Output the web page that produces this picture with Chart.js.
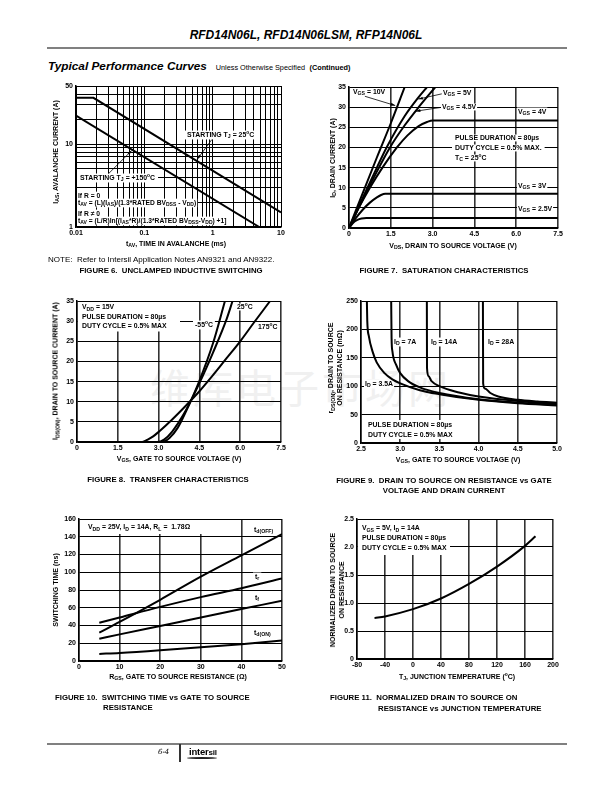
<!DOCTYPE html>
<html><head><meta charset="utf-8">
<script src="https://cdn.jsdelivr.net/npm/chart.js@4.4.0/dist/chart.umd.min.js"></script>
<style>
html,body{margin:0;padding:0;background:#fff;}
body{width:612px;height:792px;position:relative;overflow:hidden;font-family:'Liberation Sans',Arial,sans-serif;color:#000;}
#charts{position:absolute;left:0;top:0;width:612px;height:792px;z-index:1;}
#charts canvas{position:absolute;}
.abs{position:absolute;white-space:nowrap;line-height:1;z-index:2;}
.b{font-weight:bold;}
.lbl{position:absolute;white-space:nowrap;line-height:1;font-weight:bold;font-size:6.9px;padding:0 1px;transform:translateY(-50%);z-index:2;}
.box{position:absolute;white-space:nowrap;font-weight:bold;font-size:6.9px;z-index:2;line-height:9.5px;}
.ttl{position:absolute;white-space:nowrap;line-height:1;font-weight:bold;font-size:7px;transform:translate(-50%,-50%);z-index:2;text-align:center;}
.rot{transform:translate(-50%,-50%) rotate(-90deg);}
.cap{position:absolute;white-space:nowrap;line-height:1;font-weight:bold;font-size:7.8px;transform:translateY(-50%);z-index:2;}
.capc{transform:translate(-50%,-50%);}
sub{font-size:75%;vertical-align:-0.3em;line-height:0;}
sup{font-size:70%;vertical-align:0.5em;line-height:0;}
#wm{position:absolute;left:150px;top:366px;font-family:'Noto Sans CJK SC';font-size:40px;color:#f0f0f0;z-index:0;letter-spacing:3px;white-space:nowrap;line-height:1;}
</style></head><body>
<div id="wm">维库电子市场网</div>
<div id="charts"></div>

<!-- header -->
<div class="abs b" style="left:0;width:612px;text-align:center;top:29px;font-size:12px;font-style:italic">RFD14N06L, RFD14N06LSM, RFP14N06L</div>
<div style="position:absolute;left:47px;top:47px;width:520px;height:2px;background:#808080"></div>
<div class="abs" style="left:48px;top:57px"><span style="font-weight:bold;font-style:italic;font-size:11.8px">Typical Performance Curves</span>&nbsp; <span style="font-size:7.3px">Unless Otherwise Specified</span> <span style="font-size:7.3px;font-weight:bold;color:#000">(Continued)</span></div>

<!-- Figure 6 -->
<div class="lbl wb" style="left:185px;top:135px;padding:1px 2px">STARTING T<sub>J</sub> = 25<sup>o</sup>C</div>
<div class="lbl wb" style="left:77px;top:178px;padding:1px 3px">STARTING T<sub>J</sub> = +150<sup>o</sup>C</div>
<div class="lbl wb" style="left:77px;top:196px;font-size:6.7px;padding:1px 1px">If R = 0</div>
<div class="lbl wb" style="left:77px;top:203px;font-size:6.7px;padding:1px 1px">t<sub>AV</sub> = (L)(I<sub>AS</sub>)/(1.3*RATED BV<sub>DSS</sub> - V<sub>DD</sub>)</div>
<div class="lbl wb" style="left:77px;top:214px;font-size:6.7px;padding:1px 1px">If R ≠ 0</div>
<div class="lbl wb" style="left:77px;top:221px;font-size:6.7px;padding:1px 1px">t<sub>AV</sub> = (L/R)ln[(I<sub>AS</sub>*R)/(1.3*RATED BV<sub>DSS</sub>-V<sub>DD</sub>) +1]</div>
<div class="ttl rot" style="left:55px;top:152px">I<sub>AS</sub>, AVALANCHE CURRENT (A)</div>
<div class="ttl" style="left:176px;top:243px">t<sub>AV</sub>, TIME IN AVALANCHE (ms)</div>
<div class="abs" style="left:48px;top:256px;font-size:8px">NOTE:&nbsp; Refer to Intersil Application Notes AN9321 and AN9322.</div>
<div class="cap capc" style="left:171px;top:271px">FIGURE 6.&nbsp; UNCLAMPED INDUCTIVE SWITCHING</div>

<!-- Figure 7 -->
<div class="lbl wb" style="left:351px;top:92px;padding:1px 2px">V<sub>GS</sub> = 10V</div>
<div class="lbl wb" style="left:442px;top:93px">V<sub>GS</sub> = 5V</div>
<div class="lbl wb" style="left:441px;top:107px">V<sub>GS</sub> = 4.5V</div>
<div class="lbl wb" style="left:517px;top:112px;padding:1px 1px">V<sub>GS</sub> = 4V</div>
<div class="lbl wb" style="left:452px;top:138px;padding:0 3px">PULSE DURATION = 80µs</div>
<div class="lbl wb" style="left:452px;top:148px;padding:0 3px">DUTY CYCLE = 0.5% MAX.</div>
<div class="lbl wb" style="left:452px;top:158px;padding:0 3px">T<sub>C</sub> = 25<sup>o</sup>C</div>
<div class="lbl wb" style="left:517px;top:186px">V<sub>GS</sub> = 3V</div>
<div class="lbl wb" style="left:517px;top:209px">V<sub>GS</sub> = 2.5V</div>
<div class="ttl rot" style="left:332px;top:158px">I<sub>D</sub>, DRAIN CURRENT (A)</div>
<div class="ttl" style="left:453px;top:245px">V<sub>DS</sub>, DRAIN TO SOURCE VOLTAGE (V)</div>
<div class="cap capc" style="left:444px;top:271px">FIGURE 7.&nbsp; SATURATION CHARACTERISTICS</div>

<!-- Figure 8 -->
<div class="box wb" style="left:78px;top:302px;width:98px;padding:0 0 1px 4px">V<sub>DD</sub> = 15V<br>PULSE DURATION = 80µs<br>DUTY CYCLE = 0.5% MAX</div>
<div class="lbl wb" style="left:193px;top:325px;padding:1px 2px">-55<sup>o</sup>C</div>
<div class="lbl wb" style="left:236px;top:307px">25<sup>o</sup>C</div>
<div class="lbl wb" style="left:257px;top:327px">175<sup>o</sup>C</div>
<div class="ttl rot" style="left:55px;top:371px">I<sub>DS(ON)</sub>, DRAIN TO SOURCE CURRENT (A)</div>
<div class="ttl" style="left:179px;top:458px">V<sub>GS</sub>, GATE TO SOURCE VOLTAGE (V)</div>
<div class="cap capc" style="left:168px;top:480px">FIGURE 8.&nbsp; TRANSFER CHARACTERISTICS</div>

<!-- Figure 9 -->
<div class="lbl wb" style="left:393px;top:342px;padding:1px 1px">I<sub>D</sub> = 7A</div>
<div class="lbl wb" style="left:430px;top:342px;padding:1px 1px">I<sub>D</sub> = 14A</div>
<div class="lbl wb" style="left:487px;top:342px;padding:1px 1px">I<sub>D</sub> = 28A</div>
<div class="lbl wb" style="left:364px;top:384px;padding:1px 1px">I<sub>D</sub> = 3.5A</div>
<div class="box wb" style="left:364px;top:420px;padding:0 4px">PULSE DURATION = 80µs<br>DUTY CYCLE = 0.5% MAX</div>
<div class="ttl rot" style="left:335px;top:368px;line-height:9px">r<sub>DS(ON)</sub>, DRAIN TO SOURCE<br>ON RESISTANCE (mΩ)</div>
<div class="ttl" style="left:458px;top:459px">V<sub>GS</sub>, GATE TO SOURCE VOLTAGE (V)</div>
<div class="cap capc" style="left:444px;top:481px">FIGURE 9.&nbsp; DRAIN TO SOURCE ON RESISTANCE vs GATE</div>
<div class="cap capc" style="left:444px;top:491px">VOLTAGE AND DRAIN CURRENT</div>

<!-- Figure 10 -->
<div class="box wb" style="left:80px;top:520px;width:117px;padding:3px 0 3px 8px;line-height:8px">V<sub>DD</sub> = 25V, I<sub>D</sub> = 14A, R<sub>L</sub> =&nbsp; 1.78Ω</div>
<div class="lbl wb" style="left:252px;top:530px;padding:1px 2px">t<sub>d(OFF)</sub></div>
<div class="lbl wb" style="left:253px;top:577px;padding:1px 2px">t<sub>r</sub></div>
<div class="lbl wb" style="left:253px;top:598px;padding:1px 2px">t<sub>f</sub></div>
<div class="lbl wb" style="left:252px;top:633px;padding:1px 2px">t<sub>d(ON)</sub></div>
<div class="ttl rot" style="left:55px;top:590px">SWITCHING TIME (ns)</div>
<div class="ttl" style="left:178px;top:676px">R<sub>GS</sub>, GATE TO SOURCE RESISTANCE (Ω)</div>
<div class="cap" style="left:55px;top:698px">FIGURE 10.&nbsp; SWITCHING TIME vs GATE TO SOURCE</div>
<div class="cap" style="left:103px;top:708px">RESISTANCE</div>

<!-- Figure 11 -->
<div class="box wb" style="left:358px;top:520px;width:88px;padding:3px 0 2px 4px;line-height:10px">V<sub>GS</sub> = 5V, I<sub>D</sub> = 14A<br>PULSE DURATION = 80µs<br>DUTY CYCLE = 0.5% MAX</div>
<div class="ttl rot" style="left:337px;top:590px;line-height:9px">NORMALIZED DRAIN TO SOURCE<br>ON RESISTANCE</div>
<div class="ttl" style="left:457px;top:676px">T<sub>J</sub>, JUNCTION TEMPERATURE (<sup>o</sup>C)</div>
<div class="cap" style="left:330px;top:698px">FIGURE 11.&nbsp; NORMALIZED DRAIN TO SOURCE ON</div>
<div class="cap" style="left:378px;top:709px">RESISTANCE vs JUNCTION TEMPERATURE</div>

<!-- footer -->
<div style="position:absolute;left:47px;top:743px;width:520px;height:2px;background:#808080"></div>
<div style="position:absolute;left:179px;top:744px;width:1.5px;height:18px;background:#333"></div>
<div class="abs" style="left:158px;top:749px;font-size:7px;font-style:italic;font-family:'DejaVu Serif',serif">6-4</div>
<div class="abs" style="left:189px;top:747px;font-size:9.5px;font-weight:bold;letter-spacing:-0.2px">inter<span style="font-size:8px">sil</span></div>
<div style="position:absolute;left:187px;top:757px;width:30px;height:2px;border-radius:50%;background:#222"></div>

<script>
// ---------------- DATA ----------------
// Figure 6: unclamped inductive switching (t_AV ms, I_AS A)
const f6_xLabelVals = [0.01, 0.1, 1, 10];
const f6_xLabels = ['0.01', '0.1', '1', '10'];
const f6_yLabelVals = [1, 10, 50];
const f6_yLabels = ['1', '10', '50'];
const f6_tj25 = [[0.01, 36], [0.018, 36], [10, 1.5]];
const f6_tj150 = [[0.01, 22], [4.8, 1]];

// Figure 7: saturation characteristics (V_DS V, I_D A)
const f7_xLabels = ['0', '1.5', '3.0', '4.5', '6.0', '7.5'];
const f7_yLabels = ['0', '5', '10', '15', '20', '25', '30', '35'];
const f7_vgs10 = [[0,0],[0.5,8.8],[1.0,17.5],[1.5,26],[2.0,35]];
const f7_vgs5 = [[0,0],[0.5,7.6],[1.0,15],[1.35,20],[2.0,27.8],[2.5,32.5],[2.8,35]];
const f7_vgs45 = [[0,0],[0.5,7.2],[1.0,14],[1.47,20],[2.0,25.5],[2.5,30],[3.1,35]];
const f7_vgs4 = [[0,0],[0.35,5],[0.75,10],[1.2,15],[1.72,20],[2.1,23],[2.5,25.3],[2.8,26.3],[3.0,26.7],[7.5,26.7]];
const f7_vgs3 = [[0,0],[0.25,2.5],[0.5,4.6],[0.75,6.3],[1.0,7.6],[1.15,8.2],[1.3,8.5],[7.5,8.5]];
const f7_vgs25 = [[0,0],[0.15,1.3],[0.3,2.0],[0.45,2.35],[0.62,2.5],[7.5,2.5]];

// Figure 8: transfer characteristics (V_GS V, I_DS A)
const f8_xLabels = ['0', '1.5', '3.0', '4.5', '6.0', '7.5'];
const f8_yLabels = ['0', '5', '10', '15', '20', '25', '30', '35'];
const f8_m55 = [[0,0],[3.1,0],[3.4,1],[3.7,3.5],[4.0,7.5],[4.5,15.2],[5.0,24.5],[5.44,35]];
const f8_25 = [[0,0],[2.95,0],[3.2,0.6],[3.5,2.6],[4.0,7.8],[4.5,14.6],[5.0,22.2],[5.5,30.5],[5.72,35]];
const f8_175 = [[0,0],[2.4,0],[2.6,0.6],[2.8,1.4],[3.0,2.5],[3.5,5.6],[4.0,9],[4.5,12.6],[5.0,16.6],[5.5,20.8],[6.0,25],[6.5,29.6],[7.1,35]];

// Figure 9: rDS(ON) vs V_GS (V, mOhm)
const f9_xLabels = ['2.5', '3.0', '3.5', '4.0', '4.5', '5.0'];
const f9_yLabels = ['0', '50', '100', '150', '200', '250'];
const f9_id35 = [[2.575,250],[2.58,215],[2.6,188],[2.65,160],[2.7,142],[2.8,123],[2.9,112],[3.0,105],[3.25,93],[3.5,86],[4.0,76],[4.5,70],[5.0,66]];
const f9_id7 = [[2.885,250],[2.89,185],[2.9,162],[2.95,137],[3.0,123],[3.1,109],[3.25,98],[3.5,88],[4.0,77],[4.5,71],[5.0,67]];
const f9_id14 = [[3.34,250],[3.342,132],[3.36,118],[3.4,109],[3.5,100],[3.75,89],[4.0,82],[4.5,74],[5.0,69]];
const f9_id28 = [[4.055,250],[4.058,105],[4.08,96],[4.15,88],[4.25,82],[4.5,76],[4.75,73],[5.0,71]];

// Figure 10: switching time vs R_GS (Ohm, ns)
const f10_xLabels = ['0', '10', '20', '30', '40', '50'];
const f10_yLabels = ['0', '20', '40', '60', '80', '100', '120', '140', '160'];
const f10_rgs = [5, 10, 20, 30, 40, 50];
const f10_tdoff = [32, 44, 69, 95, 119, 143];
const f10_tr = [43, 49, 61, 72, 82, 93];
const f10_tf = [25, 30, 39.5, 49, 58.5, 68];
const f10_tdon = [8, 9, 12, 15.5, 19, 23];

// Figure 11: normalized rDS(ON) vs T_J (degC)
const f11_xLabels = ['-80', '-40', '0', '40', '80', '120', '160', '200'];
const f11_yLabels = ['0', '0.5', '1.0', '1.5', '2.0', '2.5'];
const f11_tj = [-55, -40, 0, 40, 80, 120, 160, 175];
const f11_rn = [0.73, 0.76, 0.89, 1.08, 1.34, 1.65, 2.02, 2.19];

// ---------------- RENDERING ----------------
const FONT = {family: 'Liberation Sans', size: 7, weight: 'bold'};
// page rectangles of the text labels: their white backgrounds are painted under the curves
const WB = Array.from(document.querySelectorAll('.wb')).map(e => e.getBoundingClientRect());

const annotPlugin = {
  id: 'annot',
  beforeDatasetsDraw(chart) {
    const ctx = chart.ctx, ca = chart.chartArea;
    const ox = parseFloat(chart.canvas.style.left), oy = parseFloat(chart.canvas.style.top);
    ctx.save(); ctx.fillStyle = '#fff';
    WB.forEach(r => {
      const l = Math.max(r.left - ox, ca.left + 1), t = Math.max(r.top - oy, ca.top + 1);
      const rr = Math.min(r.right - ox, ca.right - 1), b = Math.min(r.bottom - oy, ca.bottom - 1);
      if (rr > l && b > t) ctx.fillRect(l, t, rr - l, b - t);
    });
    ctx.restore();
  },
  afterDatasetsDraw(chart, args, opts) {
    const list = (opts && opts.list) || [];
    const ctx = chart.ctx, xs = chart.scales.x, ys = chart.scales.y;
    ctx.save();
    ctx.strokeStyle = '#000'; ctx.fillStyle = '#000'; ctx.lineWidth = 0.8;
    list.forEach(a => {
      const x1 = xs.getPixelForValue(a[0][0]), y1 = ys.getPixelForValue(a[0][1]);
      const x2 = xs.getPixelForValue(a[1][0]), y2 = ys.getPixelForValue(a[1][1]);
      ctx.beginPath(); ctx.moveTo(x1, y1); ctx.lineTo(x2, y2); ctx.stroke();
      const ang = Math.atan2(y2 - y1, x2 - x1), L = 4.5, W = 1.5;
      ctx.beginPath(); ctx.moveTo(x2, y2);
      ctx.lineTo(x2 - L*Math.cos(ang) + W*Math.sin(ang), y2 - L*Math.sin(ang) - W*Math.cos(ang));
      ctx.lineTo(x2 - L*Math.cos(ang) - W*Math.sin(ang), y2 - L*Math.sin(ang) + W*Math.cos(ang));
      ctx.closePath(); ctx.fill();
    });
    ctx.restore();
  }
};

function pairs(arr) { return arr.map(p => ({x: p[0], y: p[1]})); }
function zip(xs, ys) { return xs.map((x, i) => ({x: x, y: ys[i]})); }
function curve(points, smooth) {
  return {data: points, borderColor: '#000', borderWidth: 2, pointRadius: 0, fill: false,
          tension: smooth ? 0.4 : 0, cubicInterpolationMode: smooth ? 'monotone' : 'default'};
}
function linAxis(min, max, step, labels, grid) {
  return {type: 'linear', min: min, max: max,
    ticks: {stepSize: step, font: FONT, color: '#000', padding: 3, autoSkip: false, maxRotation: 0,
            callback: (v, i) => labels[i]},
    grid: Object.assign({color: '#000', lineWidth: 1, drawTicks: false}, grid || {}),
    border: {color: '#000', width: 1.5}};
}
function mk(rect, xs, ys, datasets, arrows) {
  const ML = 40, MT = 8, MR = 14, MB = 18;
  const c = document.createElement('canvas');
  const w = rect[2] - rect[0] + ML + MR, h = rect[3] - rect[1] + MT + MB;
  c.width = w; c.height = h;
  c.style.left = (rect[0] - ML) + 'px'; c.style.top = (rect[1] - MT) + 'px';
  c.style.width = w + 'px'; c.style.height = h + 'px';
  document.getElementById('charts').appendChild(c);
  const fit = s => { s.paddingLeft = 0; s.paddingRight = 0; s.paddingTop = 0; s.paddingBottom = 0;
                     if (s.isHorizontal()) s.height = MB; else s.width = ML; };
  xs.afterFit = fit; ys.afterFit = fit;
  xs.ticks.padding = 2;
  new Chart(c, {type: 'line', data: {datasets: datasets},
    options: {responsive: false, animation: false, events: [],
      layout: {padding: {left: 0, top: MT, right: MR, bottom: 0}},
      plugins: {legend: {display: false}, tooltip: {enabled: false}, annot: {list: arrows || []}},
      scales: {x: xs, y: ys}},
    plugins: [annotPlugin]});
}

// Figure 6 (log-log)
function logGrid(lo, hi) {
  const out = [];
  for (let d = lo; d < hi * 0.999; d *= 10) for (let k = 1; k < 10; k++) out.push(+(d * k).toPrecision(6));
  out.push(hi);
  return out;
}
function logAxis(min, max, gridTop, labelVals, labels) {
  const g = logGrid(min, gridTop).filter(v => v <= max * 1.0001);
  return {type: 'logarithmic', min: min, max: max,
    afterBuildTicks: s => { s.ticks = g.map(v => ({value: v})); },
    ticks: {font: FONT, color: '#000', padding: 3, autoSkip: false, maxRotation: 0,
      callback: (v) => { const i = labelVals.findIndex(l => Math.abs(l - v) / l < 1e-6); return i >= 0 ? labels[i] : ''; }},
    grid: {color: '#000', lineWidth: 1, drawTicks: false},
    border: {color: '#000', width: 1.5}};
}
mk([76, 86, 281, 227],
  logAxis(0.01, 10, 10, f6_xLabelVals, f6_xLabels),
  logAxis(1, 50, 100, f6_yLabelVals, f6_yLabels),
  [curve(pairs(f6_tj25), false), curve(pairs(f6_tj150), false)],
  [[[0.97, 11.3], [0.6, 6.6]], [[0.03, 4.4], [0.065, 8.3]]]);

// Figure 7
mk([349, 87, 558, 228],
  linAxis(0, 7.5, 1.5, f7_xLabels, {color: '#333', lineWidth: 1.6}),
  linAxis(0, 35, 5, f7_yLabels),
  [curve(pairs(f7_vgs10), true), curve(pairs(f7_vgs5), true), curve(pairs(f7_vgs45), true),
   curve(pairs(f7_vgs4), true), curve(pairs(f7_vgs3), true), curve(pairs(f7_vgs25), true)],
  [[[0.57, 32.7], [1.66, 30.4]], [[3.33, 33.3], [2.49, 32.0]], [[3.27, 29.9], [2.4, 29.0]]]);

// Figure 8
mk([77, 301, 281, 442],
  linAxis(0, 7.5, 1.5, f8_xLabels, {color: '#333', lineWidth: 1.6}),
  linAxis(0, 35, 5, f8_yLabels),
  [curve(pairs(f8_m55), true), curve(pairs(f8_25), true), curve(pairs(f8_175), true)]);

// Figure 9
mk([361, 301, 557, 443],
  linAxis(2.5, 5.0, 0.5, f9_xLabels, {color: '#333', lineWidth: 1.6}),
  linAxis(0, 250, 50, f9_yLabels),
  [curve(pairs(f9_id35), true), curve(pairs(f9_id7), true), curve(pairs(f9_id14), true), curve(pairs(f9_id28), true)]);

// Figure 10
mk([79, 519, 282, 661],
  linAxis(0, 50, 10, f10_xLabels, {color: '#333', lineWidth: 1.6}),
  linAxis(0, 160, 20, f10_yLabels),
  [curve(zip(f10_rgs, f10_tdoff), true), curve(zip(f10_rgs, f10_tr), true),
   curve(zip(f10_rgs, f10_tf), true), curve(zip(f10_rgs, f10_tdon), true)]);

// Figure 11
mk([357, 519, 553, 659],
  linAxis(-80, 200, 40, f11_xLabels, {color: '#333', lineWidth: 1.6}),
  linAxis(0, 2.5, 0.5, f11_yLabels),
  [curve(zip(f11_tj, f11_rn), true)]);
</script>
</body></html>
